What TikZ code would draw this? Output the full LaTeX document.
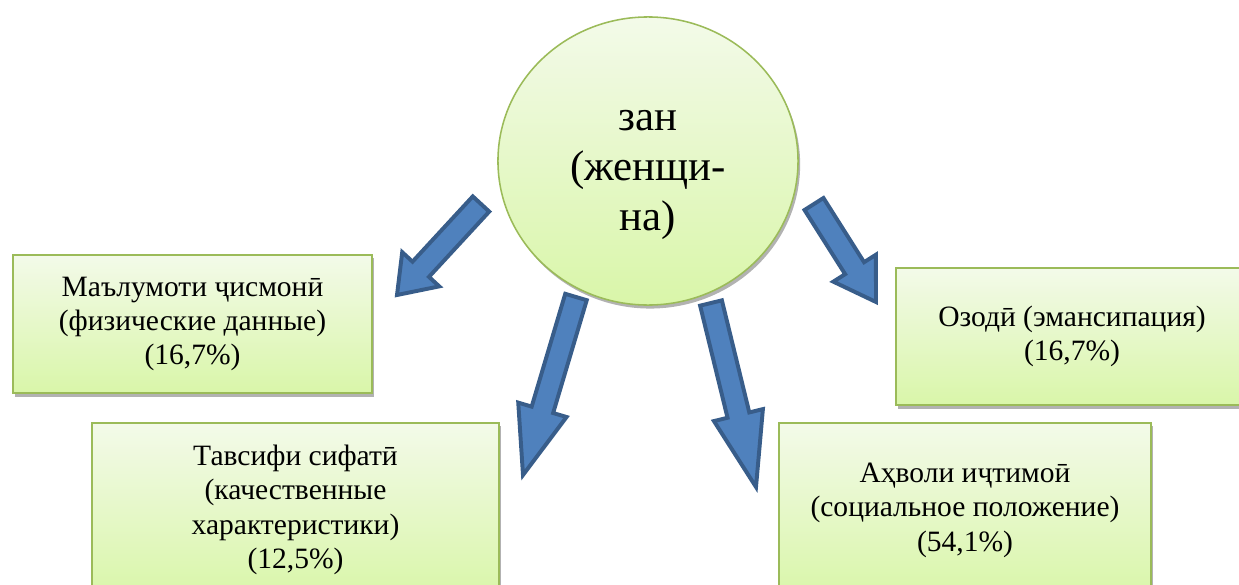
\documentclass[tikz,border=0pt]{standalone}
\usepackage{fontspec}
\setmainfont{Liberation Serif}
\usetikzlibrary{calc,shadows,shapes.geometric}

\definecolor{boxline}{HTML}{9BBB59}
\definecolor{boxtop}{HTML}{F3FAE9}
\definecolor{boxbottom}{HTML}{D9F6A9}
\definecolor{arrowfill}{HTML}{4F81BD}
\definecolor{arrowline}{HTML}{385D8A}

\tikzset{
  softshadow/.style={drop shadow={shadow xshift=1.5pt, shadow yshift=-2.5pt, opacity=0.3, fill=black}},
  databox/.style={draw=boxline, line width=1.3pt, top color=boxtop, bottom color=boxbottom,
    align=center, inner sep=0pt, font=\fontsize{21}{24.5}\selectfont, softshadow},
  zancircle/.style={ellipse, draw=boxline, line width=1.1pt, top color=boxtop, bottom color=boxbottom,
    inner sep=0pt, minimum width=7.5cm, minimum height=7.2cm, softshadow},
  zantext/.style={align=center, inner sep=0pt, font=\fontsize{30.5}{35.5}\selectfont},
  bluearrow/.style={fill=arrowfill, draw=arrowline, line width=2.8pt, line join=miter}
}

% block arrow: tail, tip, head length
\newcommand{\blockarrow}[3]{%
  \path ($(#2)!#3!(#1)$) coordinate (neck);
  \filldraw[bluearrow] ($(#1)!0.28cm!90:(#2)$) -- ($(neck)!0.28cm!90:(#2)$)
    -- ($(neck)!0.63cm!90:(#2)$) -- (#2) -- ($(neck)!0.63cm!-90:(#2)$)
    -- ($(neck)!0.28cm!-90:(#2)$) -- ($(#1)!0.28cm!-90:(#2)$) -- cycle;
}

\begin{document}
\begin{tikzpicture}[x=0.025cm, y=-0.025cm]
  \useasboundingbox (0,0) rectangle (1239,585);
  \clip (0,0) rectangle (1239,585);

  % boxes
  \node[databox, minimum width=8.975cm, minimum height=3.45cm] (physical) at (192.5,324)
    {Маълумоти ҷисмонӣ\\(физические данные)\\(16,7\%)};
  \node[databox, minimum width=10.175cm, minimum height=4.35cm] (quality) at (295.5,510)
    {Тавсифи сифатӣ\\(качественные\\характеристики)\\(12,5\%)};
  \node[databox, minimum width=8.8cm, minimum height=3.425cm] (freedom) at (1072,336.5)
    {Озодӣ (эмансипация)\\(16,7\%)};
  \node[databox, minimum width=9.3cm, minimum height=4.35cm] (social) at (965,510)
    {Аҳволи иҷтимоӣ\\(социальное положение)\\(54,1\%)};

  % centre
  \node[zancircle] (zan) at (648,161) {};
  \node[zantext] (zanlabel) at ([yshift=-0.35cm]zan.center) {зан\\(женщи-\\на)};

  % arrows
  \coordinate (tail1) at (481,204);  \coordinate (tip1) at (397,295);
  \coordinate (tail2) at (576,297);  \coordinate (tip2) at (523,475);
  \coordinate (tail3) at (711,303);  \coordinate (tip3) at (756,487);
  \coordinate (tail4) at (814,204);  \coordinate (tip4) at (876,302);
  \blockarrow{tail1}{tip1}{0.875cm}
  \blockarrow{tail2}{tip2}{1.7cm}
  \blockarrow{tail3}{tip3}{1.85cm}
  \blockarrow{tail4}{tip4}{1.0cm}
\end{tikzpicture}
\end{document}
